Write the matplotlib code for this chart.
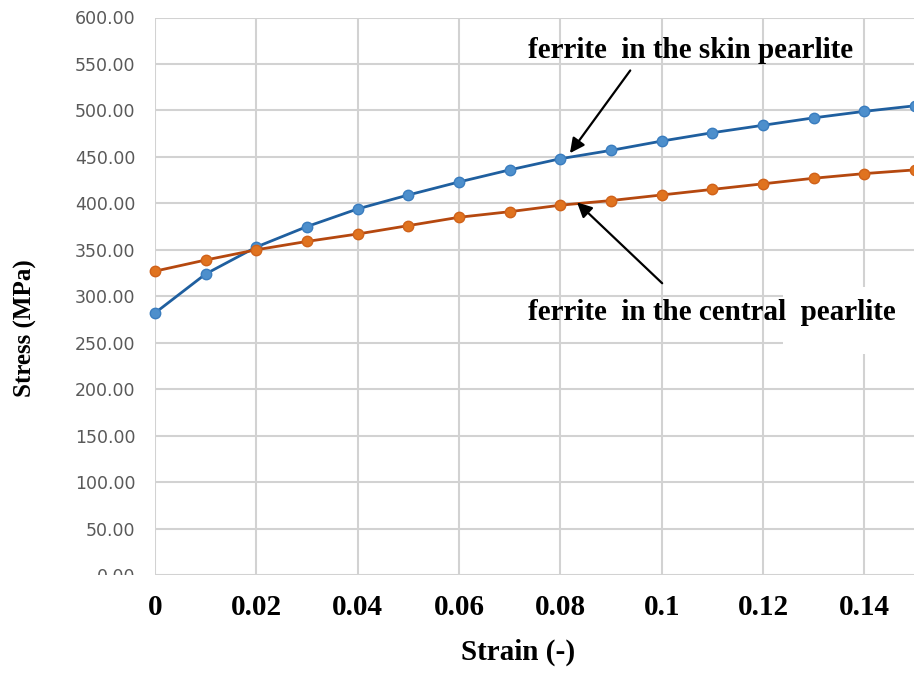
import matplotlib
matplotlib.use('Agg')
from matplotlib import pyplot as plt
from matplotlib.patches import Rectangle

# strain values and stresses
strain = [0, 0.01, 0.02, 0.03, 0.04, 0.05, 0.06, 0.07, 0.08,
          0.09, 0.10, 0.11, 0.12, 0.13, 0.14, 0.15]
skin = [282, 324, 353, 375, 394, 409, 423, 436, 448,
        457, 467, 476, 484, 492, 499, 505]
central = [327, 339, 350, 359, 367, 376, 385, 391, 398,
           403, 409, 415, 421, 427, 432, 436]

xticks = [0, 0.02, 0.04, 0.06, 0.08, 0.10, 0.12, 0.14]
xticklabels = ['0', '0.02', '0.04', '0.06', '0.08', '0.1', '0.12', '0.14']
yticks = [0, 50, 100, 150, 200, 250, 300, 350, 400, 450, 500, 550, 600]

W, H = 914, 695
fig = plt.figure(figsize=(W / 100, H / 100), dpi=100)
ax = fig.add_axes([155 / W, (H - 575) / H, (915 - 155) / W, (575 - 17.5) / H])

ax.plot(strain, skin, '-o', color='#1f5f9f', lw=2, ms=7.5,
        mfc='#4d8fcc', mec='#3a7dbf', clip_on=False, zorder=3)
ax.plot(strain, central, '-o', color='#b5480f', lw=2, ms=7.5,
        mfc='#e0731f', mec='#d0621a', clip_on=False, zorder=3)

ax.set_xlim(0, 0.15)
ax.set_ylim(0, 600)
ax.set_xticks(xticks)
ax.set_xticklabels(xticklabels)
ax.set_yticks(yticks)
ax.set_yticklabels(['%.2f' % v for v in yticks])

ax.grid(True, color='#d2d2d2', lw=1.5)
ax.set_axisbelow(True)
for s in ax.spines.values():
    s.set_visible(False)

ax.tick_params(axis='y', length=0, pad=14, labelsize=12.5, labelcolor='#595959')
ax.tick_params(axis='x', length=0, pad=14)
for lab in ax.get_xticklabels():
    lab.set_fontfamily('Liberation Serif')
    lab.set_fontweight('bold')
    lab.set_fontsize(21)

# white patch hiding gridlines behind the lower label
ax.add_patch(Rectangle((0.124, 238), 0.03, 72, facecolor='white',
                       edgecolor='none', zorder=1, clip_on=False))

serif = dict(family='Liberation Serif', weight='bold', size=21)
ax.text(0.0736, 565, 'ferrite  in the skin pearlite', va='center', ha='left',
        zorder=4, **serif)
ax.text(0.0736, 283, 'ferrite  in the central  pearlite', va='center', ha='left',
        zorder=4, **serif)

arrow = dict(arrowstyle='-|>', color='black', lw=1.6, mutation_scale=22,
             shrinkA=0, shrinkB=0)
ax.annotate('', xy=(0.0819, 454), xytext=(0.0938, 543), arrowprops=arrow, zorder=4)
ax.annotate('', xy=(0.0833, 401), xytext=(0.1001, 314), arrowprops=arrow, zorder=4)

fig.text(518 / W, 1 - 652 / H, 'Strain (-)', ha='center', va='center',
         family='Liberation Serif', weight='bold', size=21)
fig.text(25 / W, 1 - 328 / H, 'Stress (MPa)', ha='center', va='center',
         rotation=90, family='Liberation Serif', weight='bold', size=18)

# the 0.00 label is cut off at the axis line in the original
fig.patches.append(Rectangle((50 / W, 1 - 586 / H), 100 / W, 11 / H,
                             transform=fig.transFigure, facecolor='white',
                             edgecolor='none', zorder=5))

fig.savefig('out.png', dpi=100)
